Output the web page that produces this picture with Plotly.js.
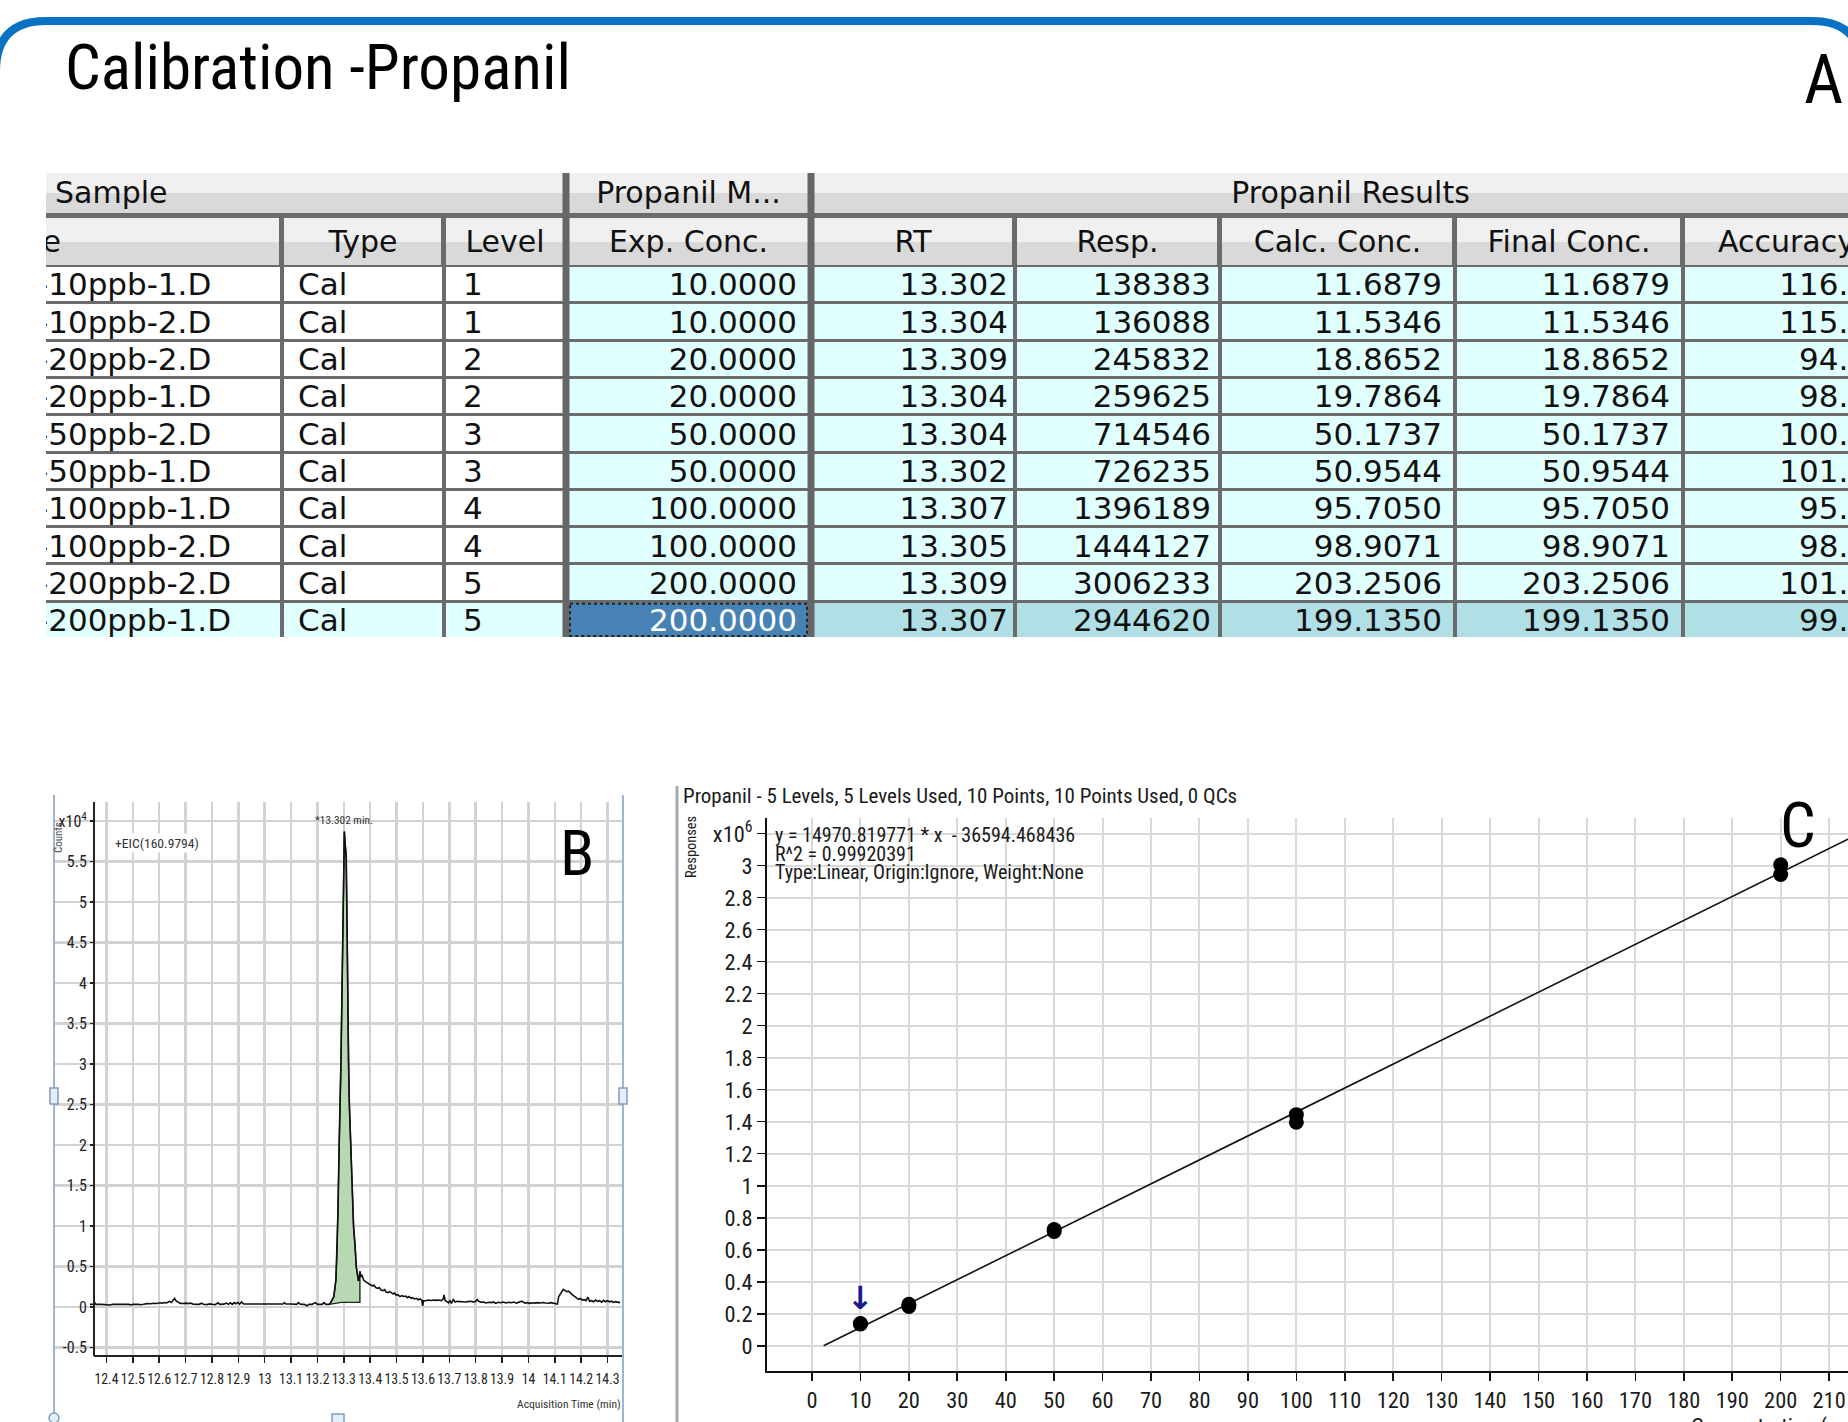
<!DOCTYPE html>
<html><head><meta charset="utf-8">
<script src="https://cdn.plot.ly/plotly-3.0.1.min.js"></script>
<style>html,body{margin:0;padding:0;background:#fff;overflow:hidden}#chart{width:1848px;height:1422px}</style>
</head><body><div id="chart"></div>
<script>
// ================= DATA =================
const dataFiles = ["-10ppb-1.D","-10ppb-2.D","-20ppb-2.D","-20ppb-1.D","-50ppb-2.D","-50ppb-1.D","-100ppb-1.D","-100ppb-2.D","-200ppb-2.D","-200ppb-1.D"];
const sampleTypes = ["Cal","Cal","Cal","Cal","Cal","Cal","Cal","Cal","Cal","Cal"];
const levels = [1,1,2,2,3,3,4,4,5,5];
const expConc = [10,10,20,20,50,50,100,100,200,200];
const retTime = [13.302,13.304,13.309,13.304,13.304,13.302,13.307,13.305,13.309,13.307];
const responses = [138383,136088,245832,259625,714546,726235,1396189,1444127,3006233,2944620];
const calcConc = [11.6879,11.5346,18.8652,19.7864,50.1737,50.9544,95.7050,98.9071,203.2506,199.1350];
const finalConc = [11.6879,11.5346,18.8652,19.7864,50.1737,50.9544,95.7050,98.9071,203.2506,199.1350];
const accuracy = [116.9,115.3,94.3,98.9,100.3,101.9,95.7,98.9,101.6,99.6];
const groupHeaders = ["Sample","Propanil M...","Propanil Results"];
const columnHeaders = ["Data File","Type","Level","Exp. Conc.","RT","Resp.","Calc. Conc.","Final Conc.","Accuracy"];

// Chromatogram (EIC 160.9794) - time (min) and counts
const eicTime = [12.337,12.352,12.356,12.360,12.380,12.392,12.398,12.405,12.415,12.422,12.440,12.455,12.463,12.470,12.485,12.493,12.500,12.520,12.530,12.540,12.555,12.568,12.578,12.590,12.598,12.605,12.612,12.620,12.628,12.638,12.646,12.652,12.658,12.664,12.672,12.680,12.690,12.700,12.710,12.718,12.728,12.740,12.752,12.760,12.768,12.780,12.792,12.800,12.812,12.823,12.830,12.845,12.855,12.862,12.870,12.877,12.884,12.890,12.898,12.905,12.912,12.920,12.945,13.069,13.075,13.080,13.100,13.115,13.121,13.128,13.135,13.150,13.160,13.168,13.180,13.192,13.200,13.218,13.225,13.232,13.245,13.250,13.262,13.270,13.2745,13.278,13.282,13.287,13.289,13.293,13.295,13.2965,13.298,13.300,13.302,13.305,13.309,13.312,13.314,13.318,13.321,13.329,13.337,13.343,13.347,13.355,13.358,13.361,13.364,13.367,13.372,13.376,13.382,13.388,13.395,13.400,13.408,13.414,13.421,13.428,13.434,13.441,13.448,13.455,13.460,13.467,13.474,13.480,13.487,13.492,13.498,13.505,13.513,13.520,13.527,13.535,13.540,13.547,13.555,13.560,13.568,13.575,13.582,13.589,13.596,13.599,13.602,13.612,13.620,13.630,13.640,13.650,13.660,13.670,13.677,13.680,13.684,13.690,13.697,13.702,13.708,13.715,13.722,13.730,13.740,13.750,13.760,13.770,13.780,13.790,13.798,13.806,13.812,13.820,13.830,13.840,13.850,13.860,13.868,13.876,13.885,13.895,13.905,13.915,13.925,13.935,13.945,13.955,13.965,13.975,13.985,13.995,14.005,14.015,14.025,14.035,14.045,14.055,14.065,14.075,14.085,14.095,14.103,14.110,14.115,14.120,14.127,14.132,14.138,14.145,14.152,14.160,14.168,14.175,14.182,14.190,14.197,14.205,14.212,14.218,14.226,14.232,14.240,14.247,14.255,14.262,14.270,14.278,14.285,14.292,14.300,14.308,14.315,14.322,14.330,14.340,14.348];
const eicCounts = [330,335,520,330,330,320,290,250,250,330,330,335,380,330,325,250,330,330,280,330,420,400,460,430,480,520,460,560,500,700,560,820,1070,760,560,450,430,480,420,480,360,380,330,470,330,300,380,330,300,520,330,350,480,330,520,330,540,400,560,350,620,370,370,370,540,370,370,360,330,540,330,320,150,330,330,540,330,330,540,330,330,530,1270,3330,7000,12000,19800,25600,30100,38700,44500,47800,53100,58400,58700,57200,55600,47800,38700,30100,25000,17300,9900,7400,5000,3330,3400,4400,3700,4000,3540,3300,3130,3000,2920,2750,2590,2700,2400,2300,2400,2100,2020,2150,1850,1770,1900,1770,1600,1750,1480,1520,1280,1400,1300,1350,1150,1300,1070,1150,1000,1070,900,1000,800,150,780,780,860,800,860,820,860,800,1000,1480,800,700,520,780,450,960,600,700,660,700,620,660,700,640,660,900,700,580,600,500,580,540,620,450,580,530,620,500,580,520,620,480,560,720,500,540,450,530,480,540,500,560,500,470,540,480,380,360,1300,1600,1900,2180,2050,1890,1950,1650,1480,1300,1100,950,1050,850,900,780,1200,700,780,650,860,700,780,600,820,650,780,640,720,560,660,600,540];
// integrated peak region and its drawn baseline
const peakStart = 13.245, peakEnd = 13.361;
const intBaseTime = [13.361, 13.291, 13.245];
const intBaseCounts = [576, 576, 330];
const peakLabel = "*13.302 min.";
const peakApex = {t: 13.302, c: 58700};

// chromatogram ticks
const bTickVals = [12.4,12.5,12.6,12.7,12.8,12.9,13,13.1,13.2,13.3,13.4,13.5,13.6,13.7,13.8,13.9,14,14.1,14.2,14.3];
const bTickText = ["12.4","12.5","12.6","12.7","12.8","12.9","13","13.1","13.2","13.3","13.4","13.5","13.6","13.7","13.8","13.9","14","14.1","14.2","14.3"];
const bYTickVals = [-5000,0,5000,10000,15000,20000,25000,30000,35000,40000,45000,50000,55000,60000];
const bYTickText = ["-0.5","0","0.5","1","1.5","2","2.5","3","3.5","4","4.5","5","5.5","x10<sup>4</sup>"];

// calibration fit line and ticks
const fitConc = [2.4, 214];
const fitResp = [0, 3167000];
const cTickVals = [0,10,20,30,40,50,60,70,80,90,100,110,120,130,140,150,160,170,180,190,200,210];
const cYTickVals = [0,200000,400000,600000,800000,1000000,1200000,1400000,1600000,1800000,2000000,2200000,2400000,2600000,2800000,3000000,3200000];
const cYTickText = ["0","0.2","0.4","0.6","0.8","1","1.2","1.4","1.6","1.8","2","2.2","2.4","2.6","2.8","3","x10<sup>6</sup>"];
const calTitle = "Propanil - 5 Levels, 5 Levels Used, 10 Points, 10 Points Used, 0 QCs";
const calEquation = ["y = 14970.819771 * x  - 36594.468436", "R^2 = 0.99920391", "Type:Linear, Origin:Ignore, Weight:None"];

// ================= FONT SELECTION =================
const ctx = document.createElement('canvas').getContext('2d');
function fontAvailable(name) {
  const s = 'mmmmmmmmmmlli1WQabcxyz0123456789';
  return ['monospace', 'serif'].some(base => {
    ctx.font = `72px ${base}`; const w0 = ctx.measureText(s).width;
    ctx.font = `72px "${name}", ${base}`; const w1 = ctx.measureText(s).width;
    return Math.abs(w0 - w1) > 0.5;
  });
}
const narrowCandidates = ["Liberation Sans Narrow", "Arial Narrow", "Noto Sans ExtraCondensed", "Noto Sans Condensed",
  "Roboto Condensed", "Open Sans Condensed", "DejaVu Sans Condensed", "Liberation Sans"];
const narrowName = narrowCandidates.find(fontAvailable) || "sans-serif";
const NARROW = `"${narrowName}", sans-serif`;
const TABLE_FONT = '"DejaVu Sans", Verdana, sans-serif';
// font size so that a text is no wider than the width it takes in the reference
function fitSize(text, targetW, maxSize) {
  ctx.font = `100px ${NARROW}`;
  const w = ctx.measureText(text).width;
  return Math.max(6, Math.min(maxSize, 100 * targetW / w));
}
const INK = '#111';

// ================= LAYOUT HELPERS =================
const W = 1848, H = 1422;
const PX = x => x / W, PY = y => 1 - y / H;

// table geometry (pixels)
const COL_EDGES = [-340, 282, 444, 566, 811, 1015, 1220, 1455, 1683, 1890];
const GROUP_EDGES = [-340, 566, 811, 1890];
const GROUP_Y = [173, 193, 213];
const HEAD_Y = [218, 242, 265];
const ROW_TOP = 266, ROW_H = 37.3;
const nRows = dataFiles.length;
const rowEdges = Array.from({length: nRows + 1}, (_, i) => ROW_TOP + i * ROW_H);
const rowCenter = i => ROW_TOP + (i + 0.5) * ROW_H + 3;
const selectedRow = nRows - 1;
const COL_TEXT = [
  {x: 37, pos: 'middle right'}, {x: 298, pos: 'middle right'}, {x: 463, pos: 'middle right'},
  {x: 797, pos: 'middle left'}, {x: 1008, pos: 'middle left'}, {x: 1211, pos: 'middle left'},
  {x: 1442, pos: 'middle left'}, {x: 1670, pos: 'middle left'}, {x: 1868, pos: 'middle left'}
];
const columnsText = [
  dataFiles, sampleTypes, levels.map(String), expConc.map(v => v.toFixed(4)),
  retTime.map(v => v.toFixed(3)), responses.map(String), calcConc.map(v => v.toFixed(4)),
  finalConc.map(v => v.toFixed(4)), accuracy.map(v => v.toFixed(1))
];
// style codes: 0 white, 1 light cyan, 2 powder blue, 3 steel blue (selected), 4 header dark, 5 header light
const styleZ = dataFiles.map((_, r) => columnHeaders.map((_, c) => {
  const sel = r === selectedRow;
  if (c < 3) return sel ? 1 : 0;
  if (c === 3) return sel ? 3 : 1;
  return sel ? 2 : 1;
}));
const CELL_SCALE = [[0,'#FFFFFF'],[0.2,'#E0FFFF'],[0.4,'#B0E0E6'],[0.6,'#4682B4'],[0.8,'#D9D9D9'],[1,'#F0F0F0']];

const traces = [];
const hm = (x, y, z, xgap, ygap) => ({type: 'heatmap', x, y, z, xgap, ygap, zmin: 0, zmax: 5, colorscale: CELL_SCALE,
  showscale: false, hoverinfo: 'skip', xaxis: 'x3', yaxis: 'y3', zsmooth: false});
traces.push(hm(GROUP_EDGES, GROUP_Y, [[5,5,5],[4,4,4]], 6, 0));
traces.push(hm(COL_EDGES, HEAD_Y, [columnHeaders.map(() => 5), columnHeaders.map(() => 4)], 5, 0));
traces.push(hm(COL_EDGES, rowEdges, styleZ, 4, 3));

// group header text
traces.push({type: 'scatter', mode: 'text', xaxis: 'x3', yaxis: 'y3', hoverinfo: 'skip', cliponaxis: true,
  x: [55, (GROUP_EDGES[1] + GROUP_EDGES[2]) / 2, (GROUP_EDGES[2] + GROUP_EDGES[3]) / 2],
  y: groupHeaders.map(() => 195), text: groupHeaders,
  textposition: ['middle right', 'middle center', 'middle center'],
  textfont: {family: TABLE_FONT, size: 30, color: INK}});
// column header text
traces.push({type: 'scatter', mode: 'text', xaxis: 'x3', yaxis: 'y3', hoverinfo: 'skip', cliponaxis: true,
  x: columnHeaders.map((_, c) => c === 0 ? 61 : (COL_EDGES[c] + COL_EDGES[c + 1]) / 2),
  y: columnHeaders.map(() => 244), text: columnHeaders,
  textposition: columnHeaders.map((_, c) => c === 0 ? 'middle left' : 'middle center'),
  textfont: {family: TABLE_FONT, size: 30, color: INK}});
// body text per column
columnsText.forEach((vals, c) => {
  traces.push({type: 'scatter', mode: 'text', xaxis: 'x3', yaxis: 'y3', hoverinfo: 'skip', cliponaxis: true,
    x: vals.map(() => COL_TEXT[c].x), y: vals.map((_, i) => rowCenter(i)), text: vals,
    textposition: COL_TEXT[c].pos,
    textfont: {family: TABLE_FONT, size: 31, color: vals.map((_, i) => (c === 3 && i === selectedRow) ? '#FFFFFF' : INK)}});
});

// ---- chromatogram ----
const areaIdx = eicTime.map((t, i) => i).filter(i => eicTime[i] >= peakStart && eicTime[i] <= peakEnd);
traces.push({type: 'scatter', mode: 'lines', xaxis: 'x', yaxis: 'y', hoverinfo: 'skip',
  x: areaIdx.map(i => eicTime[i]).concat(intBaseTime), y: areaIdx.map(i => eicCounts[i]).concat(intBaseCounts),
  fill: 'toself', fillcolor: '#B8D7B3', line: {color: '#1b2a1b', width: 1.4}});
traces.push({type: 'scatter', mode: 'lines', xaxis: 'x', yaxis: 'y', hoverinfo: 'skip',
  x: eicTime, y: eicCounts, line: {color: '#111', width: 1.6}});

// ---- calibration ----
traces.push({type: 'scatter', mode: 'lines', xaxis: 'x2', yaxis: 'y2', hoverinfo: 'skip',
  x: fitConc, y: fitResp, line: {color: '#111', width: 1.6}});
traces.push({type: 'scatter', mode: 'markers', xaxis: 'x2', yaxis: 'y2', hoverinfo: 'skip',
  x: expConc, y: responses, marker: {color: '#000', size: 15, line: {width: 0}}});

const bTickSize = fitSize('14.3', 24, 20);
const bYTickSize = fitSize('5.5', 20, 19);
const cTickSize = Math.min(fitSize('10', 24, 25), fitSize('2.4', 28, 25));
const gridC = '#D9D9D9';
const layout = {
  width: W, height: H, margin: {l: 0, r: 0, t: 0, b: 0}, showlegend: false, hovermode: false,
  paper_bgcolor: '#FFFFFF', plot_bgcolor: 'rgba(0,0,0,0)',
  // chromatogram axes
  xaxis: {domain: [PX(54), PX(622)], range: [12.2009, 14.3549], anchor: 'y', tickmode: 'array',
    tickvals: bTickVals, ticktext: bTickText, tickangle: 0, showline: false, ticks: 'outside', ticklen: 6, tickwidth: 1.5,
    tickcolor: '#222', showgrid: true, gridcolor: '#D2D2D2', gridwidth: 2.5, zeroline: false,
    ticklabelstandoff: 4, tickfont: {family: NARROW, size: bTickSize, color: '#222'}},
  yaxis: {domain: [PY(1356), PY(802)], range: [-6049, 62346], anchor: 'free', position: PX(94), tickmode: 'array',
    tickvals: bYTickVals, ticktext: bYTickText, showline: true, linecolor: '#222', linewidth: 2,
    ticks: 'outside', ticklen: 3, tickwidth: 1.5, tickcolor: '#222', showgrid: true, gridcolor: '#D2D2D2',
    gridwidth: 2.5, zeroline: false, tickfont: {family: NARROW, size: bYTickSize, color: '#222'}},
  // calibration axes
  xaxis2: {domain: [PX(767), 1], range: [-9.29, 213.9], anchor: 'y2', tickmode: 'array', tickvals: cTickVals,
    ticktext: cTickVals.map(String), tickangle: 0, ticklabeloverflow: 'allow', showline: true, linecolor: '#111', linewidth: 2, ticks: 'outside',
    ticklen: 8, tickwidth: 1.6, tickcolor: '#111', showgrid: true, gridcolor: gridC, gridwidth: 2,
    zeroline: false, tickfont: {family: NARROW, size: cTickSize, color: '#1a1a1a'}},
  yaxis2: {domain: [PY(1371), PY(818)], range: [-158000, 3298000], anchor: 'x2', tickmode: 'array',
    tickvals: cYTickVals, ticktext: cYTickText, showline: true, linecolor: '#111', linewidth: 2,
    ticks: 'outside', ticklen: 8, tickwidth: 1.6, tickcolor: '#111', showgrid: true, gridcolor: gridC,
    gridwidth: 2, zeroline: false, tickfont: {family: NARROW, size: cTickSize, color: '#1a1a1a'}},
  // table axes (pixel units)
  xaxis3: {domain: [PX(46), 1], range: [46, 1848], anchor: 'y3', visible: false, showgrid: false, zeroline: false},
  yaxis3: {domain: [PY(637), PY(173)], range: [637, 173], anchor: 'x3', visible: false, showgrid: false, zeroline: false},
  shapes: [],
  annotations: []
};

const S = layout.shapes, A = layout.annotations;
// blue frame at top (rounded)
const bx = (x) => PX(x).toFixed(5), by = (y) => PY(y).toFixed(5);
S.push({type: 'path', xref: 'paper', yref: 'paper', layer: 'above',
  path: `M ${bx(-4)},${by(1500)} L ${bx(-4)},${by(71)} Q ${bx(-4)},${by(21)} ${bx(46)},${by(21)} L ${bx(1812)},${by(21)} Q ${bx(1862)},${by(21)} ${bx(1862)},${by(71)} L ${bx(1862)},${by(1500)}`,
  line: {color: '#0872C4', width: 8}});
// table background (separator colour) and thick separators
S.push({type: 'rect', xref: 'x3', yref: 'y3', x0: 46, x1: 1848, y0: 173, y1: 637, layer: 'below',
  fillcolor: '#6B6B6B', line: {width: 0}});
[566, 811].forEach(x => S.push({type: 'line', xref: 'x3', yref: 'y3', x0: x, x1: x, y0: 173, y1: 637,
  line: {color: '#666', width: 7}}));
S.push({type: 'rect', xref: 'x3', yref: 'y3', x0: 570, x1: 807, y0: rowEdges[selectedRow] + 2, y1: 636,
  line: {color: '#222', width: 2, dash: 'dot'}});
// panel B frame
const pline = (x0, y0, x1, y1, color, width) => ({type: 'line', xref: 'paper', yref: 'paper',
  x0: PX(x0), y0: PY(y0), x1: PX(x1), y1: PY(y1), line: {color, width}});
S.push(pline(54, 795, 54, 1422, '#9DB4D3', 2));
S.push(pline(623, 795, 623, 1422, '#9DB4D3', 2));
S.push(pline(94, 1356, 622, 1356, '#222', 2));
const prect = (x0, y0, x1, y1) => ({type: 'rect', xref: 'paper', yref: 'paper', x0: PX(x0), y0: PY(y0), x1: PX(x1), y1: PY(y1),
  fillcolor: '#E6EEF8', line: {color: '#7F9CC4', width: 1.5}});
S.push(prect(50, 1088, 58, 1104));
S.push(prect(619, 1088, 627, 1104));
S.push(prect(332, 1414, 344, 1424));
S.push({type: 'circle', xref: 'paper', yref: 'paper', x0: PX(49), x1: PX(59), y0: PY(1413), y1: PY(1423),
  fillcolor: '#E6EEF8', line: {color: '#7F9CC4', width: 1.5}});
// panel C separator
S.push(pline(677, 786, 677, 1422, '#A8A8A8', 3));

const ann = (text, x, y, o) => Object.assign({text, x: PX(x), y: PY(y), xref: 'paper', yref: 'paper',
  showarrow: false, xanchor: 'left', yanchor: 'middle', font: {family: NARROW, size: 20, color: INK}}, o || {});
const titleText = 'Calibration -Propanil';
A.push(ann(titleText, 63, 67, {font: {family: NARROW, size: fitSize(titleText, 506, 66), color: '#000'}}));
A.push(ann('A', 1823, 80, {xanchor: 'center', font: {family: NARROW, size: 68, color: '#000'}}));
A.push(ann('B', 577, 853, {xanchor: 'center', font: {family: NARROW, size: 63, color: '#000'}}));
A.push(ann('C', 1798, 825, {xanchor: 'center', font: {family: NARROW, size: 63, color: '#000'}}));
A.push(ann('+EIC(160.9794)', 113, 843, {bgcolor: '#FFFFFF', font: {family: NARROW, size: fitSize('+EIC(160.9794)', 84, 15), color: '#333'}}));
A.push(ann('Counts', 59, 838, {xanchor: 'center', textangle: -90, font: {family: NARROW, size: 11, color: '#444'}}));
A.push(ann('Acquisition Time (min)', 623, 1404, {xanchor: 'right', font: {family: NARROW, size: fitSize('Acquisition Time (min)', 104, 18), color: '#333'}}));
A.push({text: peakLabel, x: peakApex.t, y: peakApex.c, xref: 'x', yref: 'y', showarrow: false,
  xanchor: 'center', yanchor: 'bottom', yshift: 3, font: {family: NARROW, size: fitSize(peakLabel, 58, 15), color: '#333'}});
A.push(ann(calTitle, 681, 796, {font: {family: NARROW, size: fitSize(calTitle, 584, 21), color: '#1a1a1a'}}));
const eqSize = fitSize(calEquation[0], 318, 20);
calEquation.forEach((t, i) => A.push(ann(t, 773, 835 + i * 18.5, {font: {family: NARROW, size: eqSize, color: '#1a1a1a'}})));
A.push(ann('Responses', 691, 847, {xanchor: 'center', textangle: -90, font: {family: NARROW, size: fitSize('Responses', 62, 17), color: '#1a1a1a'}}));
A.push(ann('Concentration (ng/ml)', 1689, 1411, {yanchor: 'top', font: {family: NARROW, size: cTickSize, color: '#1a1a1a'}}));
A.push({text: '↓', x: expConc[0], y: 300000, xref: 'x2', yref: 'y2', showarrow: false, xanchor: 'center',
  yanchor: 'middle', font: {family: '"DejaVu Sans", sans-serif', size: 32, color: '#1A1A8C', weight: 'bold'}});

Plotly.newPlot('chart', traces, layout, {displayModeBar: false, staticPlot: true});
</script></body></html>
